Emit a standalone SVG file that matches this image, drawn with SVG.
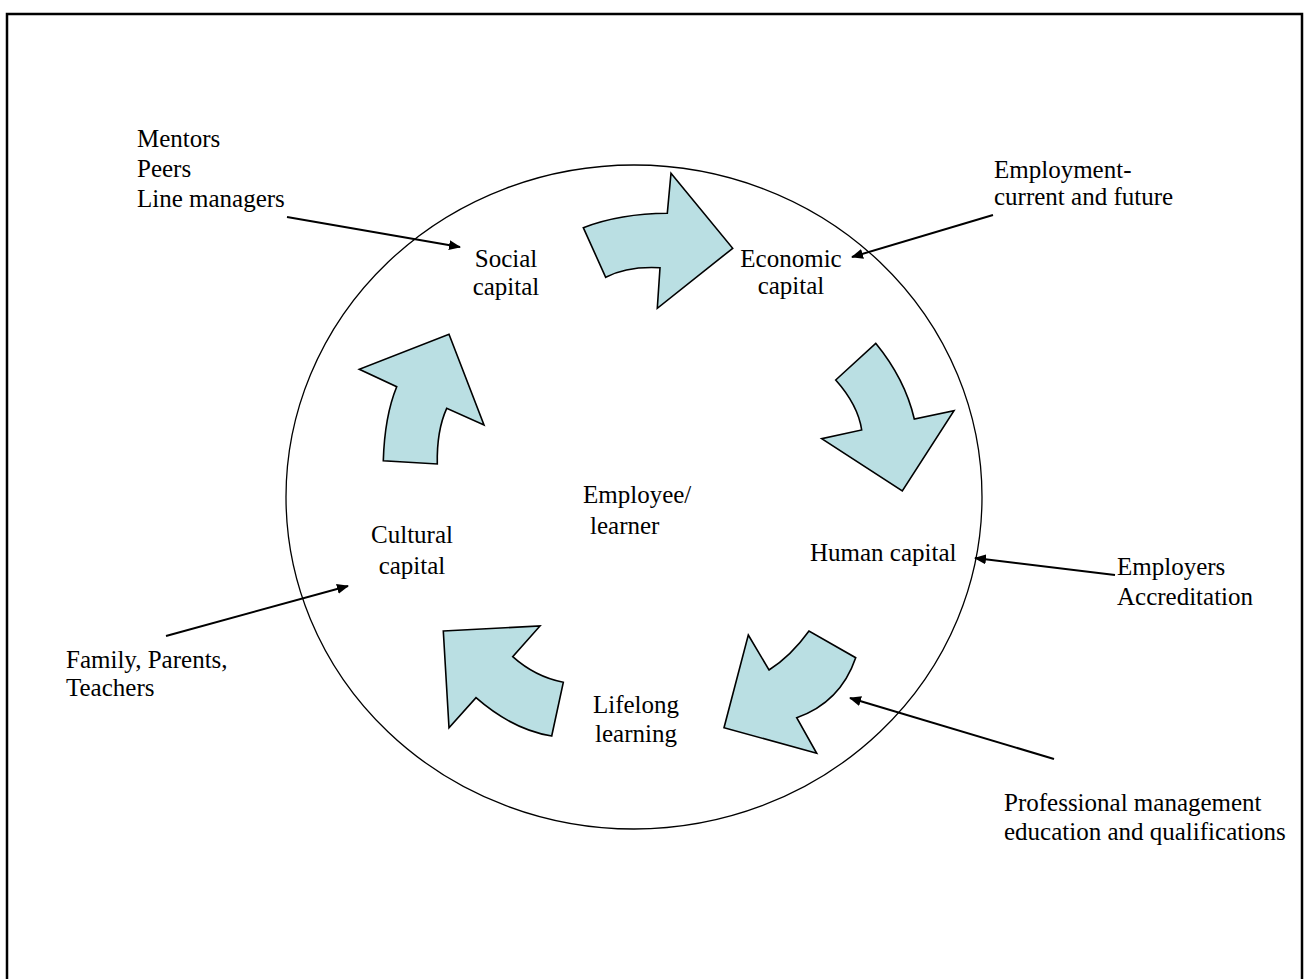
<svg xmlns="http://www.w3.org/2000/svg" width="1308" height="979" viewBox="0 0 1308 979">
  <style>
    text { font-family: "Liberation Serif", "Times New Roman", serif; font-size: 25px; fill: #000; }
    .mid { text-anchor: middle; }
    .flow { fill: #BADFE3; stroke: #000; stroke-width: 1.6; stroke-linejoin: miter; }
    .link { stroke: #000; stroke-width: 2; fill: none; marker-end: url(#tip); }
  </style>
  <defs>
    <marker id="tip" markerUnits="userSpaceOnUse" markerWidth="12" markerHeight="10" refX="11" refY="5" orient="auto">
      <path d="M0,0 L12,5 L0,10 Z" fill="#000"/>
    </marker>
  </defs>

  <rect width="1308" height="979" fill="#fff"/>

  <!-- outer frame, open at the bottom -->
  <path id="frame" d="M7,979 L7,14 L1302,14 L1302,979" fill="none" stroke="#000" stroke-width="2.5"/>

  <!-- central cycle -->
  <ellipse id="cycle" cx="634" cy="497" rx="348" ry="332" fill="none" stroke="#000" stroke-width="1.3"/>

  <!-- curved block arrows between the capitals -->
  <g id="flow-social-economic"><path class="flow" d="M583.3,227.7 Q620.7,213.5 667.3,213.3 L671,173.3 L732.7,248.3 L657.3,308.3 L660,267.7 Q627,266 605.7,277.3 Z"/></g>
  <g id="flow-economic-human"><path class="flow" d="M835.7,380 L875.7,343.3 Q905,379 914.3,419 L954,410.7 L902.3,491 L821.7,438.7 L861.7,430 Q858,405 835.7,380 Z"/></g>
  <g id="flow-human-lifelong"><path class="flow" d="M748.3,635 L769,670 Q791,656 809,631 L855.7,657.7 Q840.4,702.3 796.7,717.7 L816.7,753.3 L724,727.7 Z"/></g>
  <g id="flow-lifelong-cultural"><path class="flow" d="M443.3,631 L540,626 L512.7,656.7 Q535.4,677 563.3,682.3 L551.7,736 Q512.8,729.8 476,697.7 L449,727.7 Z"/></g>
  <g id="flow-cultural-social"><path class="flow" d="M383.3,460.7 Q384.6,416.3 396.7,386.7 L359.3,369.3 L449,334.3 L484,425 L446.7,408.3 Q436.6,430.5 437.3,464 Z"/></g>

  <!-- capital labels -->
  <g id="social-capital"><text class="mid" x="506" y="267">Social</text><text class="mid" x="506" y="295">capital</text></g>
  <g id="economic-capital"><text class="mid" x="791" y="267">Economic</text><text class="mid" x="791" y="294">capital</text></g>
  <g id="human-capital"><text x="810" y="561">Human capital</text></g>
  <g id="lifelong-learning"><text class="mid" x="636" y="713">Lifelong</text><text class="mid" x="636" y="742">learning</text></g>
  <g id="cultural-capital"><text class="mid" x="412" y="543">Cultural</text><text class="mid" x="412" y="574">capital</text></g>
  <g id="employee"><text x="583" y="503">Employee/</text><text x="590" y="534">learner</text></g>

  <!-- outside influences -->
  <g id="mentors"><text x="137" y="147">Mentors</text><text x="137" y="177">Peers</text><text x="137" y="207">Line managers</text></g>
  <g id="employment"><text x="994" y="178">Employment-</text><text x="994" y="205">current and future</text></g>
  <g id="employers"><text x="1117" y="575">Employers</text><text x="1117" y="605">Accreditation</text></g>
  <g id="professional"><text x="1004" y="811">Professional management</text><text x="1004" y="840">education and qualifications</text></g>
  <g id="family"><text x="66" y="668">Family, Parents,</text><text x="66" y="696">Teachers</text></g>

  <!-- connectors -->
  <g id="connectors">
    <line class="link" x1="287" y1="217" x2="460" y2="247"/>
    <line class="link" x1="993" y1="215" x2="852" y2="257"/>
    <line class="link" x1="166" y1="636" x2="348" y2="586"/>
    <line class="link" x1="1115" y1="575" x2="975" y2="558"/>
    <line class="link" x1="1054" y1="759" x2="850" y2="698"/>
  </g>
</svg>
